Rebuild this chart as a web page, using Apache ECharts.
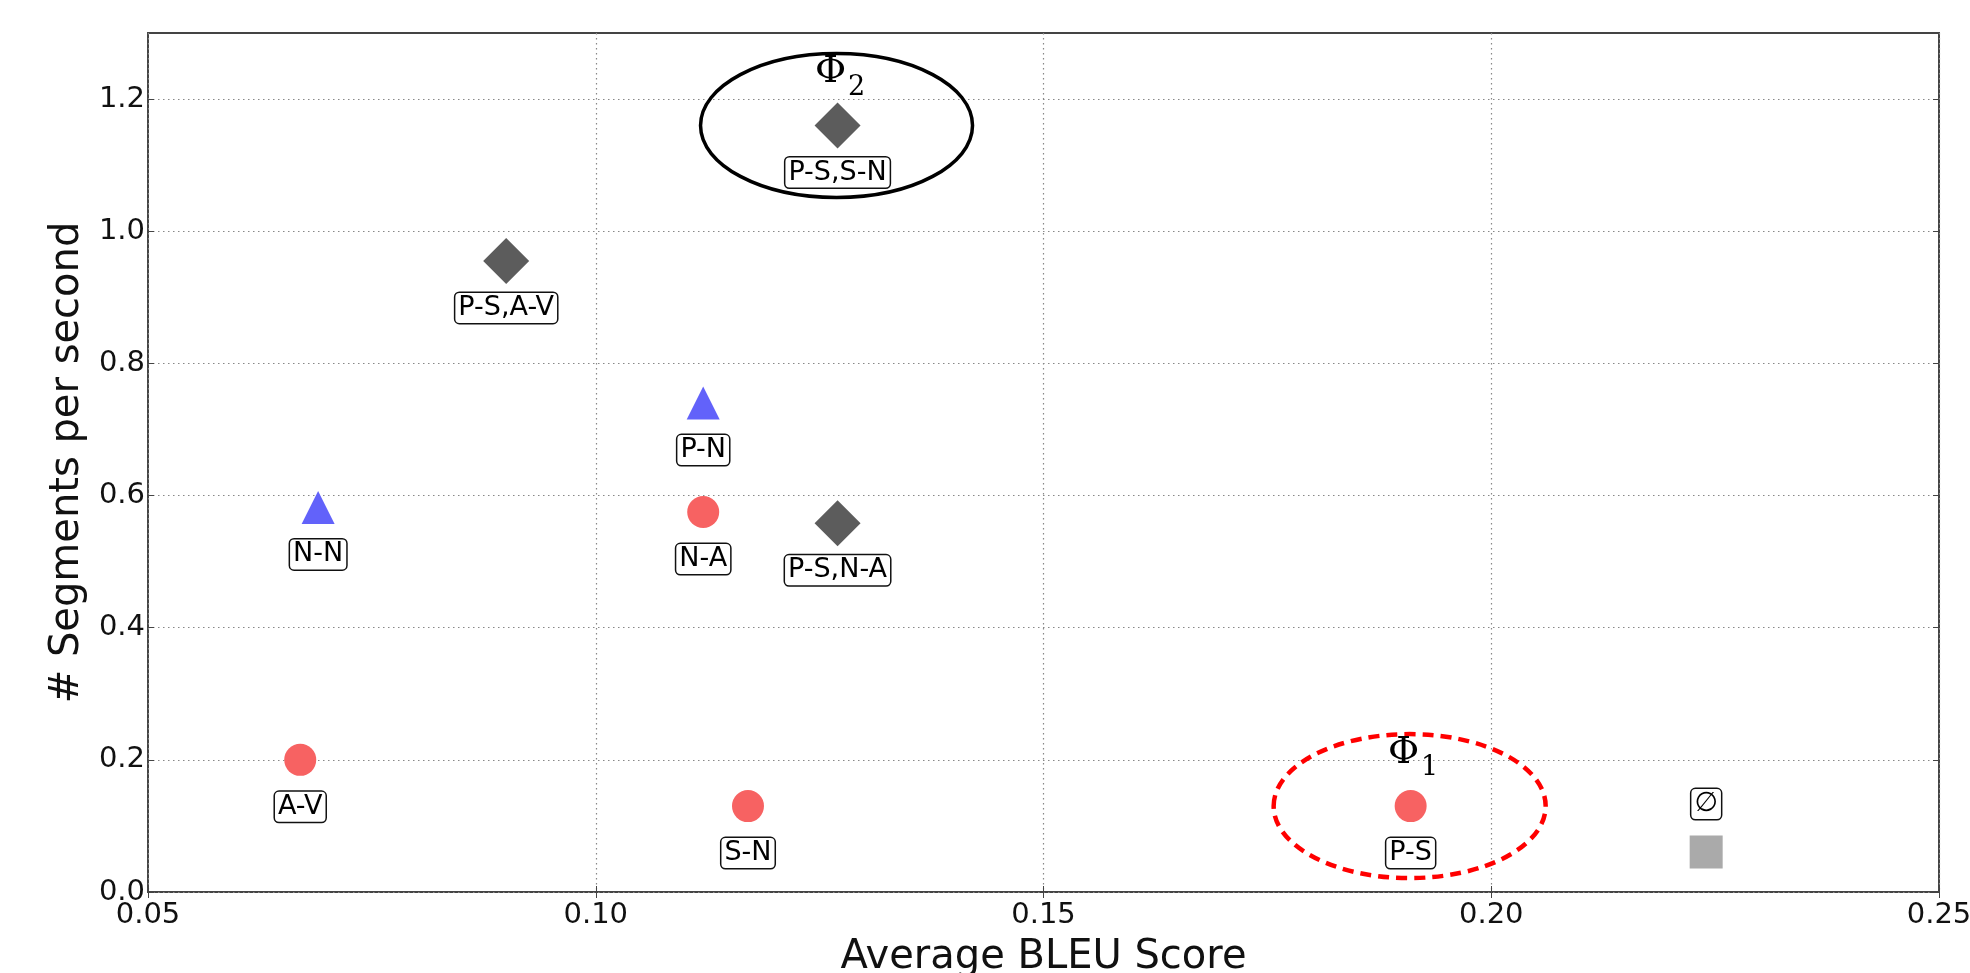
<!DOCTYPE html>
<html>
<head>
<meta charset="utf-8">
<style>
  html, body { margin: 0; padding: 0; background: #fff; }
  #chart { width: 1970px; height: 973px; }
</style>
<script src="https://cdn.jsdelivr.net/npm/echarts@6/dist/echarts.min.js"></script>
</head>
<body>
<div id="chart"></div>
<script>
// Segment pairings: average BLEU score (x) vs. segments per second (y)
const circleX = [0.067, 0.117, 0.112, 0.191];
const circleY = [0.200, 0.130, 0.575, 0.130];
const circleNames = ['A-V', 'S-N', 'N-A', 'P-S'];

const triangleX = [0.069, 0.112];
const triangleY = [0.582, 0.740];
const triangleNames = ['N-N', 'P-N'];

const diamondX = [0.090, 0.127, 0.127];
const diamondY = [0.955, 1.160, 0.558];
const diamondNames = ['P-S,A-V', 'P-S,S-N', 'P-S,N-A'];

const squareX = [0.224];
const squareY = [0.0605];
const squareNames = ['\u2205'];

// Highlighted configurations (Φ1, Φ2), centred on their points
const regionX = [0.127, 0.191];
const regionY = [1.160, 0.130];
const regionSub = ['2', '1'];

const xTicks = [0.05, 0.10, 0.15, 0.20, 0.25];
const yTicks = [0.0, 0.2, 0.4, 0.6, 0.8, 1.0, 1.2];

const xName = 'Average BLEU Score';
const yName = '# Segments per second';

const FONT = 'DejaVu Sans';

function points(xs, ys, names) {
  return xs.map((x, i) => [x, ys[i], names[i]]);
}

const boxLabel = {
  show: true,
  position: 'inside',
  offset: [0, 47],
  formatter: p => p.data[2],
  fontFamily: FONT,
  fontSize: 27,
  color: '#000',
  backgroundColor: '#fff',
  borderColor: '#111',
  borderWidth: 1.5,
  borderRadius: 4,
  padding: [2, 3, 1, 3]
};

function scatter(name, xs, ys, names, symbol, size, color, labelOffset) {
  return {
    name: name,
    type: 'scatter',
    z: 3,
    symbol: symbol,
    symbolSize: size,
    itemStyle: { color: color, opacity: 1 },
    label: Object.assign({}, boxLabel, labelOffset ? { offset: labelOffset } : {}),
    emphasis: { disabled: true },
    data: points(xs, ys, names)
  };
}

const chart = echarts.init(document.getElementById('chart'), null, { renderer: 'canvas' });

const tickLabelStyle = { fontFamily: FONT, fontSize: 29, color: '#111' };
const gridLine = { show: true, lineStyle: { type: [1.5, 3.5], color: '#888', width: 1.2 } };
const tickStyle = { show: true, inside: true, length: 6, lineStyle: { color: '#444', width: 1 } };

chart.setOption({
  animation: false,
  backgroundColor: '#fff',
  grid: {
    left: 148, right: 31, top: 33, bottom: 81,
    outerBoundsMode: 'none',
    containLabel: false,
    show: true, borderColor: '#444', borderWidth: 2, backgroundColor: 'transparent'
  },
  xAxis: [{
    type: 'value',
    min: 0.05, max: 0.25, interval: 0.05,
    name: xName,
    nameLocation: 'middle',
    nameGap: 46,
    nameTextStyle: { fontFamily: FONT, fontSize: 40, color: '#111' },
    axisLine: { show: false },
    axisTick: Object.assign({ customValues: xTicks }, tickStyle),
    axisLabel: Object.assign({ margin: 9, customValues: xTicks, formatter: v => v.toFixed(2) }, tickLabelStyle),
    splitLine: gridLine
  }, {
    type: 'value', position: 'top',
    min: 0.05, max: 0.25, interval: 0.05,
    axisLine: { show: false },
    axisTick: Object.assign({ customValues: xTicks }, tickStyle),
    axisLabel: { show: false },
    splitLine: { show: false }
  }],
  yAxis: [{
    type: 'value',
    min: 0, max: 1.3, interval: 0.2,
    name: yName,
    nameLocation: 'middle',
    nameGap: 60,
    nameTextStyle: { fontFamily: FONT, fontSize: 40, color: '#111' },
    axisLine: { show: false },
    axisTick: Object.assign({ customValues: yTicks }, tickStyle),
    axisLabel: Object.assign({ margin: 3, customValues: yTicks, formatter: v => v.toFixed(1) }, tickLabelStyle),
    splitLine: gridLine
  }, {
    type: 'value', position: 'right',
    min: 0, max: 1.3, interval: 0.2,
    axisLine: { show: false },
    axisTick: Object.assign({ customValues: yTicks }, tickStyle),
    axisLabel: { show: false },
    splitLine: { show: false }
  }],
  series: [
    {
      name: 'regions',
      type: 'custom',
      z: 2,
      clip: false,
      silent: true,
      renderItem: function (params, api) {
        const c = api.coord([api.value(0), api.value(1)]);
        const dashed = params.dataIndex === 1;
        return {
          type: 'group',
          children: [
            {
              type: 'ellipse',
              shape: { cx: c[0] - 1, cy: c[1], rx: 136, ry: 72 },
              style: dashed
                ? { fill: null, stroke: '#f00', lineWidth: 4.5, lineDash: [11, 7] }
                : { fill: null, stroke: '#000', lineWidth: 3.5 }
            },
            {
              type: 'text',
              x: c[0] - 7, y: c[1] - 53,
              style: { text: '\u03A6', font: '38px "DejaVu Serif"', fill: '#000', align: 'center', verticalAlign: 'middle' }
            },
            {
              type: 'text',
              x: c[0] + 19, y: c[1] - 38,
              style: { text: api.value(2), font: '27px "DejaVu Serif"', fill: '#000', align: 'center', verticalAlign: 'middle' }
            }
          ]
        };
      },
      data: regionX.map((x, i) => [x, regionY[i], regionSub[i]])
    },
    scatter('circles', circleX, circleY, circleNames, 'circle', 32, '#f76262'),
    scatter('triangles', triangleX, triangleY, triangleNames, 'triangle', 33, '#6262fa'),
    scatter('diamonds', diamondX, diamondY, diamondNames, 'diamond', 46, '#5c5c5c'),
    scatter('empty', squareX, squareY, squareNames, 'rect', 33, '#aaaaaa', [0, -48])
  ]
});
</script>
</body>
</html>
